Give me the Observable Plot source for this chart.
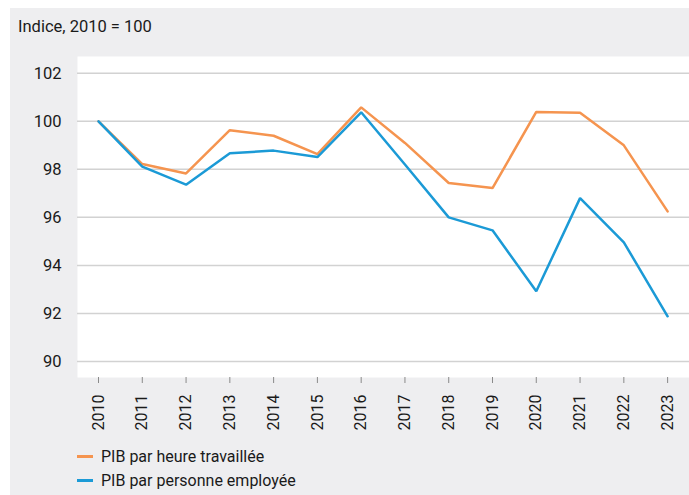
<!DOCTYPE html>
<html>
<head>
<meta charset="utf-8">
<script src="https://cdn.jsdelivr.net/npm/d3@7"></script>
<script src="https://cdn.jsdelivr.net/npm/@observablehq/plot@0.6"></script>
<style>
  html, body { margin: 0; padding: 0; background: #ffffff; }
  #wrap { position: relative; width: 689px; height: 495px; overflow: hidden; font-family: Roboto, "Liberation Sans", sans-serif; color: #1a1a1a; }
  #panel { position: absolute; left: 10px; top: 8px; width: 679px; height: 487px; background: #eeeef0; }
  #title { position: absolute; left: 18px; top: 17px; font-size: 16.5px; }
  #chart { position: absolute; left: 0; top: 0; }
  .leg { position: absolute; left: 77px; font-size: 16px; display: flex; align-items: center; }
  .leg span.sw { display: inline-block; width: 16px; height: 3px; margin-right: 8px; }
</style>
</head>
<body>
<div id="wrap">
  <div id="panel"></div>
  <div id="title">Indice, 2010 = 100</div>
  <div id="chart"></div>
  <div id="legend"></div>
</div>
<script>
const years = [2010, 2011, 2012, 2013, 2014, 2015, 2016, 2017, 2018, 2019, 2020, 2021, 2022, 2023];
const seriesNames = ["PIB par heure travaillée", "PIB par personne employée"];
const seriesColors = ["#f5944f", "#1b9ad6"];
const parHeure = [100, 98.22, 97.83, 99.63, 99.40, 98.63, 100.58, 99.1, 97.43, 97.22, 100.39, 100.36, 99.0, 96.25];
const parPersonne = [100, 98.11, 97.36, 98.67, 98.78, 98.51, 100.375, 98.2, 96.0, 95.46, 92.92, 96.8, 94.96, 91.88];
const yTicks = [90, 92, 94, 96, 98, 100, 102];

const data = [];
years.forEach((y, i) => {
  data.push({year: y, value: parHeure[i], serie: seriesNames[0]});
  data.push({year: y, value: parPersonne[i], serie: seriesNames[1]});
});

const chart = Plot.plot({
  width: 689,
  height: 440,
  marginLeft: 77,
  marginRight: 0,
  marginTop: 56,
  marginBottom: 63,
  style: {background: "transparent", fontFamily: "Roboto, 'Liberation Sans', sans-serif", fontSize: "16px", color: "#1a1a1a"},
  x: {domain: [2009.52, 2023.5], ticks: years, tickFormat: "d", tickSize: 6, tickPadding: 11, tickRotate: -90, label: null},
  y: {domain: [89.33, 102.7], ticks: yTicks, tickSize: 0, tickPadding: 16, label: null},
  color: {domain: seriesNames, range: seriesColors},
  marks: [
    Plot.frame({fill: "white", stroke: null}),
    Plot.ruleY(yTicks, {stroke: "#d2d2d2", strokeWidth: 1.5}),
    Plot.axisX({ticks: years, tickFormat: "d", tickSize: 6, tickPadding: 11, tickRotate: -90, stroke: "#8a8a8a", strokeOpacity: 1, fontSize: 16, label: null}),
    Plot.axisY({ticks: yTicks, tickSize: 0, tickPadding: 16, fontSize: 16.5, label: null}),
    Plot.line(data, {x: "year", y: "value", z: "serie", stroke: "serie", strokeWidth: 2.5, strokeLinejoin: "miter"})
  ]
});
document.getElementById("chart").appendChild(chart);

const legend = document.getElementById("legend");
seriesNames.forEach((name, i) => {
  const d = document.createElement("div");
  d.className = "leg";
  d.style.top = (447 + i * 24) + "px";
  d.innerHTML = `<span class="sw" style="background:${seriesColors[i]}"></span>${name}`;
  legend.appendChild(d);
});
</script>
</body>
</html>
